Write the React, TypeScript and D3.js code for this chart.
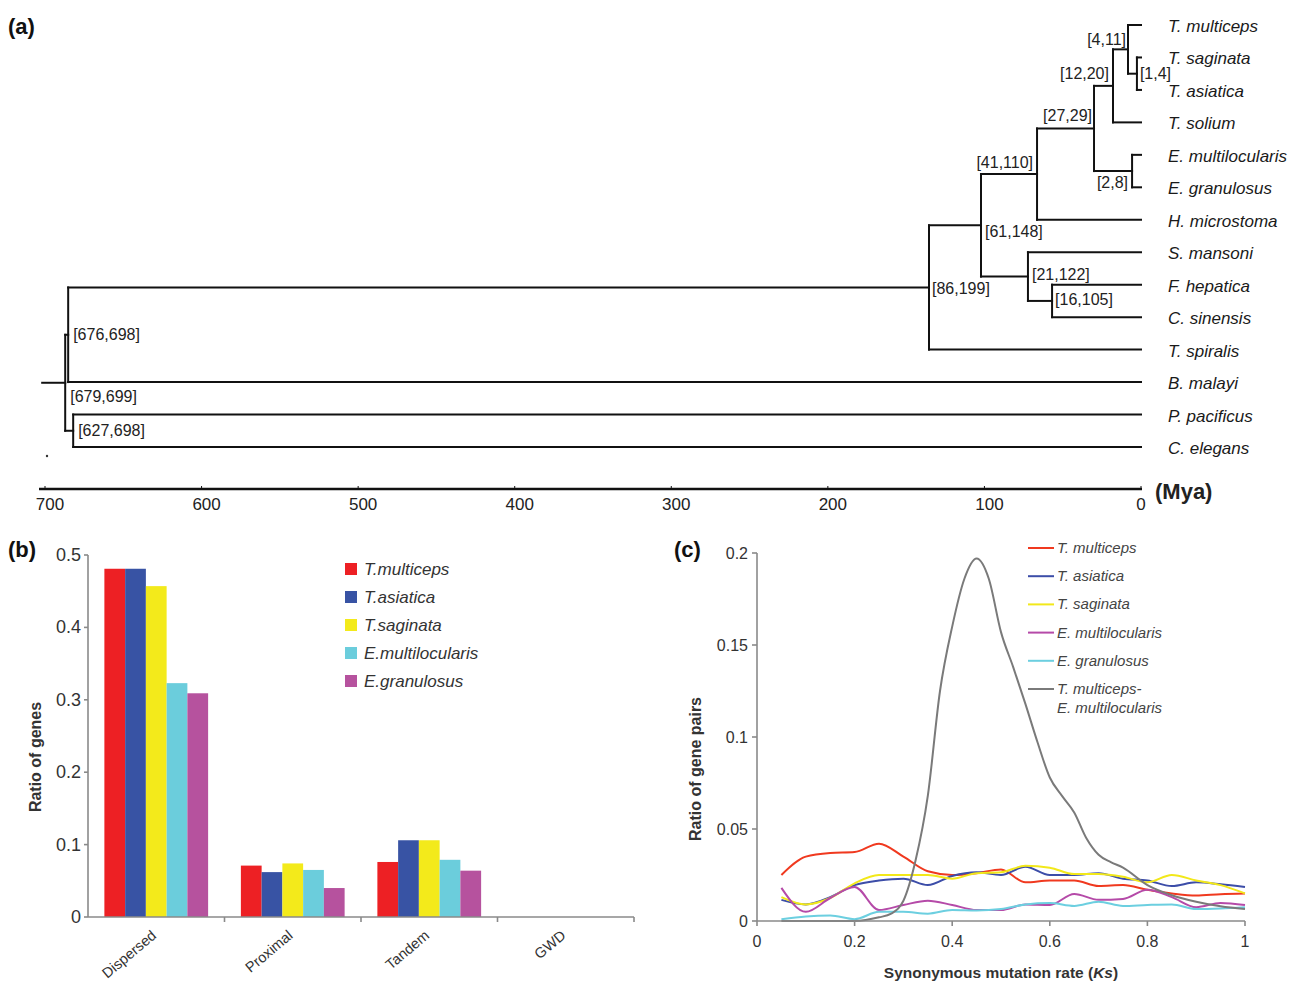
import React from "react";
import * as d3 from "d3";

const FONT = "'Liberation Sans', Arial, Helvetica, sans-serif";

// ---------- (a) divergence time tree ----------
const SPECIES = [
  "T. multiceps",
  "T. saginata",
  "T. asiatica",
  "T. solium",
  "E. multilocularis",
  "E. granulosus",
  "H. microstoma",
  "S. mansoni",
  "F. hepatica",
  "C. sinensis",
  "T. spiralis",
  "B. malayi",
  "P. pacificus",
  "C. elegans",
];

// internal nodes, children listed before parents; age in Mya
const TREE_NODES = [
  { id: "n1", interval: "[1,4]", age: 2.6, children: ["T. saginata", "T. asiatica"] },
  { id: "n2", interval: "[4,11]", age: 8.3, children: ["T. multiceps", "n1"] },
  { id: "n3", interval: "[12,20]", age: 17.9, children: ["n2", "T. solium"] },
  { id: "n4", interval: "[2,8]", age: 5.7, children: ["E. multilocularis", "E. granulosus"] },
  { id: "n5", interval: "[27,29]", age: 30, children: ["n3", "n4"] },
  { id: "n6", interval: "[41,110]", age: 66.4, children: ["n5", "H. microstoma"] },
  { id: "n7", interval: "[16,105]", age: 56.8, children: ["F. hepatica", "C. sinensis"] },
  { id: "n8", interval: "[21,122]", age: 72.2, children: ["S. mansoni", "n7"] },
  { id: "n9", interval: "[61,148]", age: 102.2, children: ["n6", "n8"] },
  { id: "n10", interval: "[86,199]", age: 135.4, children: ["n9", "T. spiralis"] },
  { id: "n11", interval: "[676,698]", age: 685.2, children: ["n10", "B. malayi"] },
  { id: "n12", interval: "[627,698]", age: 682, children: ["P. pacificus", "C. elegans"] },
  { id: "n13", interval: "[679,699]", age: 687.1, children: ["n11", "n12"] },
];
const ROOT_STEM_AGE = 701.8;
const AGE_TICKS = [700, 600, 500, 400, 300, 200, 100, 0];

// label placement (style only)
const NODE_LABEL_POS: Record<string, { dx: number; dy: number; anchor: string }> = {
  n1: { dx: 3, dy: 5, anchor: "start" },
  n2: { dx: -2, dy: -4, anchor: "end" },
  n3: { dx: -4, dy: -7, anchor: "end" },
  n4: { dx: -4, dy: 17, anchor: "end" },
  n5: { dx: -2, dy: -7, anchor: "end" },
  n6: { dx: -4, dy: -6, anchor: "end" },
  n7: { dx: 3, dy: 4, anchor: "start" },
  n8: { dx: 4, dy: 3, anchor: "start" },
  n9: { dx: 4, dy: 12, anchor: "start" },
  n10: { dx: 3, dy: 7, anchor: "start" },
  n11: { dx: 5, dy: 5, anchor: "start" },
  n12: { dx: 5, dy: 5, anchor: "start" },
  n13: { dx: 5, dy: 19, anchor: "start" },
};

// ---------- (b) duplication types ----------
const DUP_TYPES = ["Dispersed", "Proximal", "Tandem", "GWD"];
const BAR_SERIES = ["T.multiceps", "T.asiatica", "T.saginata", "E.multilocularis", "E.granulosus"];
const BAR_COLORS = ["#ED2024", "#3853A4", "#F3EA1B", "#6BCDDC", "#B6529E"];
const T_MULTICEPS_GENES = [0.481, 0.071, 0.076, 0];
const T_ASIATICA_GENES = [0.481, 0.062, 0.106, 0];
const T_SAGINATA_GENES = [0.457, 0.074, 0.106, 0];
const E_MULTILOCULARIS_GENES = [0.323, 0.065, 0.079, 0];
const E_GRANULOSUS_GENES = [0.309, 0.04, 0.064, 0];
const BAR_VALUES = [
  T_MULTICEPS_GENES,
  T_ASIATICA_GENES,
  T_SAGINATA_GENES,
  E_MULTILOCULARIS_GENES,
  E_GRANULOSUS_GENES,
];

// ---------- (c) Ks distributions ----------
const KS = [0.05, 0.1, 0.15, 0.2, 0.25, 0.3, 0.35, 0.4, 0.45, 0.5, 0.55, 0.6, 0.65, 0.7, 0.75, 0.8, 0.85, 0.9, 0.95, 1];
const KS_T_MULTICEPS = [0.025, 0.035, 0.037, 0.0375, 0.042, 0.035, 0.027, 0.025, 0.026, 0.028, 0.021, 0.022, 0.022, 0.019, 0.0195, 0.017, 0.015, 0.0138, 0.0146, 0.015];
const KS_T_ASIATICA = [0.0115, 0.009, 0.013, 0.0195, 0.022, 0.023, 0.0195, 0.0245, 0.0265, 0.025, 0.0295, 0.025, 0.025, 0.026, 0.023, 0.022, 0.019, 0.021, 0.02, 0.0185];
const KS_T_SAGINATA = [0.013, 0.009, 0.0125, 0.0205, 0.025, 0.025, 0.025, 0.023, 0.026, 0.0265, 0.03, 0.029, 0.0255, 0.0255, 0.024, 0.021, 0.025, 0.022, 0.0195, 0.015];
const KS_E_MULTILOCULARIS = [0.018, 0.005, 0.0125, 0.0185, 0.006, 0.0087, 0.011, 0.0087, 0.006, 0.006, 0.009, 0.0087, 0.0147, 0.0115, 0.012, 0.017, 0.013, 0.0075, 0.0098, 0.0087];
const KS_E_GRANULOSUS = [0.001, 0.0025, 0.003, 0.001, 0.005, 0.005, 0.004, 0.006, 0.0057, 0.0065, 0.009, 0.0098, 0.0082, 0.0105, 0.0082, 0.0087, 0.009, 0.0065, 0.0068, 0.0075];
const KS_PAIR = [0.05, 0.1, 0.15, 0.2, 0.25, 0.275, 0.3, 0.325, 0.35, 0.375, 0.4, 0.425, 0.45, 0.475, 0.5, 0.525, 0.55, 0.575, 0.6, 0.625, 0.65, 0.675, 0.7, 0.725, 0.75, 0.8, 0.85, 0.9, 0.95, 1];
const KS_TM_EM = [0, 0, 0, 0, 0.002, 0.004, 0.011, 0.033, 0.068, 0.125, 0.16, 0.186, 0.197, 0.186, 0.157, 0.138, 0.118, 0.097, 0.078, 0.068, 0.059, 0.045, 0.036, 0.032, 0.029, 0.0195, 0.014, 0.0105, 0.008, 0.0065];

const KS_SERIES = [
  { name: ["T. multiceps"], color: "#F0391F", xs: KS, ys: KS_T_MULTICEPS },
  { name: ["T. asiatica"], color: "#3C4DA8", xs: KS, ys: KS_T_ASIATICA },
  { name: ["T. saginata"], color: "#F2E81A", xs: KS, ys: KS_T_SAGINATA },
  { name: ["E. multilocularis"], color: "#B54AA8", xs: KS, ys: KS_E_MULTILOCULARIS },
  { name: ["E. granulosus"], color: "#6CCFE0", xs: KS, ys: KS_E_GRANULOSUS },
  { name: ["T. multiceps-", "E. multilocularis"], color: "#7A7A7A", xs: KS_PAIR, ys: KS_TM_EM },
];

function TreePanel() {
  const x = d3.scaleLinear().domain([700, 0]).range([45, 1141]);
  const y = d3.scaleLinear().domain([0, SPECIES.length - 1]).range([25, 447]);

  const pos: Record<string, { x: number; y: number }> = {};
  SPECIES.forEach((s, i) => (pos[s] = { x: x(0), y: y(i) }));
  TREE_NODES.forEach((n) => {
    const ys = n.children.map((c) => pos[c].y);
    pos[n.id] = { x: x(n.age), y: (d3.min(ys)! + d3.max(ys)!) / 2 };
  });
  const root = pos["n13"];
  const axisY = 489;

  return (
    <g>
      <text x={8} y={34} fontSize={22} fontWeight="bold" fill="#111">(a)</text>
      <g stroke="#111" strokeWidth={2} strokeLinecap="square" fill="none">
        {TREE_NODES.map((n) => {
          const p = pos[n.id];
          const ys = n.children.map((c) => pos[c].y);
          return (
            <g key={n.id}>
              <line x1={p.x} x2={p.x} y1={d3.min(ys)} y2={d3.max(ys)} />
              {n.children.map((c) => (
                <line key={c} x1={p.x} x2={pos[c].x} y1={pos[c].y} y2={pos[c].y} />
              ))}
            </g>
          );
        })}
        <line x1={x(ROOT_STEM_AGE)} x2={root.x} y1={root.y} y2={root.y} />
      </g>
      {SPECIES.map((s, i) => (
        <text key={s} x={1168} y={y(i) + 7} fontSize={17} fontStyle="italic" fill="#1a1a1a">
          {s}
        </text>
      ))}
      {TREE_NODES.map((n) => {
        const p = pos[n.id];
        const o = NODE_LABEL_POS[n.id];
        return (
          <text key={n.id} x={p.x + o.dx} y={p.y + o.dy} fontSize={16} fill="#222" textAnchor={o.anchor}>
            {n.interval}
          </text>
        );
      })}
      <circle cx={47} cy={456} r={1.2} fill="#333" />
      <line x1={39} x2={x(0) + 1} y1={axisY} y2={axisY} stroke="#111" strokeWidth={2.5} />
      {AGE_TICKS.map((t) => (
        <g key={t}>
          <line x1={x(t)} x2={x(t)} y1={axisY - 3} y2={axisY} stroke="#111" strokeWidth={1} />
          <text x={x(t) + (t === 0 ? 0 : 5)} y={axisY + 21} fontSize={17} fill="#222" textAnchor="middle">
            {t}
          </text>
        </g>
      ))}
      <text x={1155} y={499} fontSize={22} fontWeight="bold" fill="#222">(Mya)</text>
    </g>
  );
}

function BarPanel() {
  const x0 = d3.scaleBand().domain(DUP_TYPES).range([88, 634]);
  const bw = x0.bandwidth();
  const x1 = d3
    .scaleBand()
    .domain(BAR_SERIES)
    .range([bw * 0.12, bw * 0.88]);
  const y = d3.scaleLinear().domain([0, 0.5]).range([917, 555]);
  const yTicks = [0, 0.1, 0.2, 0.3, 0.4, 0.5];

  return (
    <g>
      <text x={8} y={557} fontSize={22} fontWeight="bold" fill="#111">(b)</text>
      {BAR_SERIES.map((s, si) =>
        DUP_TYPES.map((t, ti) => {
          const v = BAR_VALUES[si][ti];
          return (
            <rect
              key={s + t}
              x={x0(t)! + x1(s)!}
              y={y(v)}
              width={x1.bandwidth()}
              height={y(0) - y(v)}
              fill={BAR_COLORS[si]}
            />
          );
        })
      )}
      <g stroke="#8a8a8a" strokeWidth={1.6}>
        <line x1={88} x2={88} y1={y(0.5)} y2={y(0)} />
        <line x1={88} x2={634} y1={y(0)} y2={y(0)} />
        {yTicks.map((t) => (
          <line key={t} x1={84} x2={88} y1={y(t)} y2={y(t)} />
        ))}
        {DUP_TYPES.map((t) => (
          <line key={t} x1={x0(t)! + bw} x2={x0(t)! + bw} y1={y(0)} y2={y(0) + 5} />
        ))}
      </g>
      {yTicks.map((t) => (
        <text key={t} x={81} y={y(t) + 6} fontSize={18} fill="#333" textAnchor="end">
          {String(t)}
        </text>
      ))}
      {DUP_TYPES.map((t) => (
        <text
          key={t}
          transform={`translate(${x0(t)! + bw / 2 + 1},${937}) rotate(-40)`}
          fontSize={14.5}
          fill="#333"
          textAnchor="end"
        >
          {t}
        </text>
      ))}
      <text
        transform={`translate(${41},${757}) rotate(-90)`}
        fontSize={16}
        fontWeight="bold"
        fill="#333"
        textAnchor="middle"
      >
        Ratio of genes
      </text>
      {BAR_SERIES.map((s, i) => (
        <g key={s} transform={`translate(345,${569 + i * 28})`}>
          <rect x={0} y={-6} width={12} height={12} fill={BAR_COLORS[i]} />
          <text x={19} y={6} fontSize={17} fontStyle="italic" fill="#333">
            {s}
          </text>
        </g>
      ))}
    </g>
  );
}

function KsPanel() {
  const x = d3.scaleLinear().domain([0, 1]).range([757, 1245]);
  const y = d3.scaleLinear().domain([0, 0.2]).range([921, 553]);
  const xTicks = [0, 0.2, 0.4, 0.6, 0.8, 1];
  const yTicks = [0, 0.05, 0.1, 0.15, 0.2];
  const line = d3
    .line<[number, number]>()
    .x((d) => x(d[0]))
    .y((d) => y(d[1]))
    .curve(d3.curveMonotoneX);

  return (
    <g>
      <text x={674} y={557} fontSize={22} fontWeight="bold" fill="#111">(c)</text>
      {KS_SERIES.map((s) => (
        <path
          key={s.name.join("")}
          d={line(s.xs.map((k, i) => [k, s.ys[i]] as [number, number]))!}
          fill="none"
          stroke={s.color}
          strokeWidth={2}
        />
      ))}
      <g stroke="#8a8a8a" strokeWidth={1.6}>
        <line x1={x(0)} x2={x(0)} y1={y(0.2)} y2={y(0)} />
        <line x1={x(0)} x2={x(1)} y1={y(0)} y2={y(0)} />
        {yTicks.map((t) => (
          <line key={t} x1={x(0) - 5} x2={x(0)} y1={y(t)} y2={y(t)} />
        ))}
        {xTicks.map((t) => (
          <line key={t} x1={x(t)} x2={x(t)} y1={y(0)} y2={y(0) + 5} />
        ))}
      </g>
      {yTicks.map((t) => (
        <text key={t} x={748} y={y(t) + 6} fontSize={16} fill="#333" textAnchor="end">
          {String(t)}
        </text>
      ))}
      {xTicks.map((t) => (
        <text key={t} x={x(t)} y={947} fontSize={16} fill="#333" textAnchor="middle">
          {String(t)}
        </text>
      ))}
      <text x={1001} y={978} fontSize={15.5} fontWeight="bold" fill="#333" textAnchor="middle">
        Synonymous mutation rate (<tspan fontStyle="italic">Ks</tspan>)
      </text>
      <text
        transform={`translate(${701},${769}) rotate(-90)`}
        fontSize={16}
        fontWeight="bold"
        fill="#333"
        textAnchor="middle"
      >
        Ratio of gene pairs
      </text>
      {KS_SERIES.map((s, i) => (
        <g key={s.name.join("")} transform={`translate(1028,${548 + i * 28.2})`}>
          <line x1={0} x2={26} y1={0} y2={0} stroke={s.color} strokeWidth={2} />
          {s.name.map((nm, j) => (
            <text key={nm} x={29} y={5 + j * 19} fontSize={15} fontStyle="italic" fill="#444">
              {nm}
            </text>
          ))}
        </g>
      ))}
    </g>
  );
}

export default function App() {
  return (
    <svg
      width={1290}
      height={988}
      style={{ position: "absolute", left: 0, top: 0, background: "#fff" }}
      fontFamily={FONT}
    >
      <rect width={1290} height={988} fill="#fff" />
      <TreePanel />
      <BarPanel />
      <KsPanel />
    </svg>
  );
}
